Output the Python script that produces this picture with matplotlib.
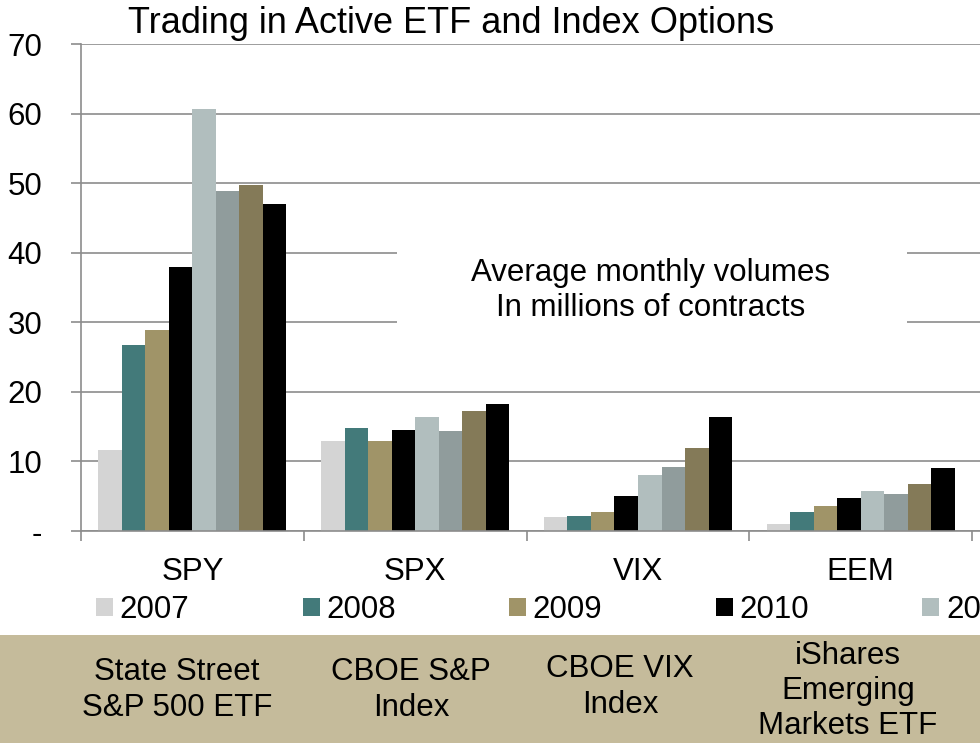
import matplotlib.pyplot as plt
import numpy as np
from matplotlib.patches import Rectangle

plt.rcParams['font.family'] = ['Liberation Sans', 'DejaVu Sans']

tickers = ["SPY", "SPX", "VIX", "EEM"]
names = ["State Street\nS&P 500 ETF", "CBOE S&P\nIndex", "CBOE VIX\nIndex",
         "iShares\nEmerging\nMarkets ETF"]
years = ["2007", "2008", "2009", "2010", "2011", "2012", "2013", "2014"]
colors = ["#d4d4d4", "#437a7a", "#a09468", "#000000",
          "#b1bebe", "#909c9c", "#847a58", "#000000"]
volumes = [
    [11.7, 13.0, 2.0, 1.0],   # 2007
    [26.8, 14.8, 2.1, 2.8],   # 2008
    [28.9, 12.9, 2.7, 3.6],   # 2009
    [38.0, 14.5, 5.1, 4.8],   # 2010
    [60.7, 16.4, 8.1, 5.8],   # 2011
    [48.8, 14.4, 9.2, 5.3],   # 2012
    [49.7, 17.2, 11.9, 6.8],  # 2013
    [47.0, 18.2, 16.4, 9.1],  # 2014
]

fs = 22.5
fig = plt.figure(figsize=(9.8, 7.43), dpi=100)
# axes runs off the right edge like the original slide crop
ax = fig.add_axes([81/980, 1 - 531/743, 5*222.8/980, (531-44)/743])

x = np.arange(len(tickers))
w = 0.1055
for i, yr in enumerate(years):
    ax.bar(x + 0.5 + (i - 3.5)*w, volumes[i], width=w, color=colors[i],
           label=yr, zorder=2)

ax.set_xlim(0, 5)
ax.set_ylim(0, 70)
ax.set_yticks(np.arange(0, 71, 10))
ax.set_yticklabels(["-"] + [str(v) for v in range(10, 71, 10)])
ax.set_axisbelow(True)
ax.grid(axis='y', color='#8c8c8c', linewidth=1.2)

ax.set_xticks(np.arange(0, 6))
ax.set_xticklabels([])
ax.set_xticks(x + 0.5, minor=True)
ax.set_xticklabels(tickers, minor=True)
ax.tick_params(axis='x', which='major', length=7, color='#8c8c8c', width=1.2)
ax.tick_params(axis='x', which='minor', length=0, pad=19, labelsize=fs)
ax.tick_params(axis='y', length=7, color='#8c8c8c', width=1.2, pad=21,
               labelsize=fs)
for s in ['top', 'right']:
    ax.spines[s].set_visible(False)
for s in ['left', 'bottom']:
    ax.spines[s].set_color('#8c8c8c')
    ax.spines[s].set_linewidth(1.2)

# white box behind the note
ax.add_patch(Rectangle((1.418, 26.7), 2.29, 15.1, facecolor='white',
                       edgecolor='none', zorder=1))
ax.text(2.555, 34.6, "Average monthly volumes\nIn millions of contracts",
        ha='center', va='center', fontsize=fs, linespacing=1.22, zorder=3)

fig.text(128/980, 1 - 33/743, "Trading in Active ETF and Index Options",
         ha='left', va='baseline', fontsize=26)

fig.legend(loc='center left', bbox_to_anchor=(96/980, 1 - 610/743), ncol=8,
           frameon=False, fontsize=fs, handlelength=0.54, handleheight=0.54,
           handletextpad=0.22, columnspacing=3.62, borderaxespad=0,
           borderpad=0)

fig.patches.append(Rectangle((0, 0), 1, 108/743, transform=fig.transFigure,
                             facecolor='#c5bb9b', edgecolor='none', zorder=0))
centers = [(177, 690), (411, 690), (620, 687), (848, 691)]
for (cx, cy), nm in zip(centers, names):
    fig.text(cx/980, 1 - cy/743, nm, ha='center', va='center',
             fontsize=fs, linespacing=1.22)

fig.savefig("out.png", dpi=100)
